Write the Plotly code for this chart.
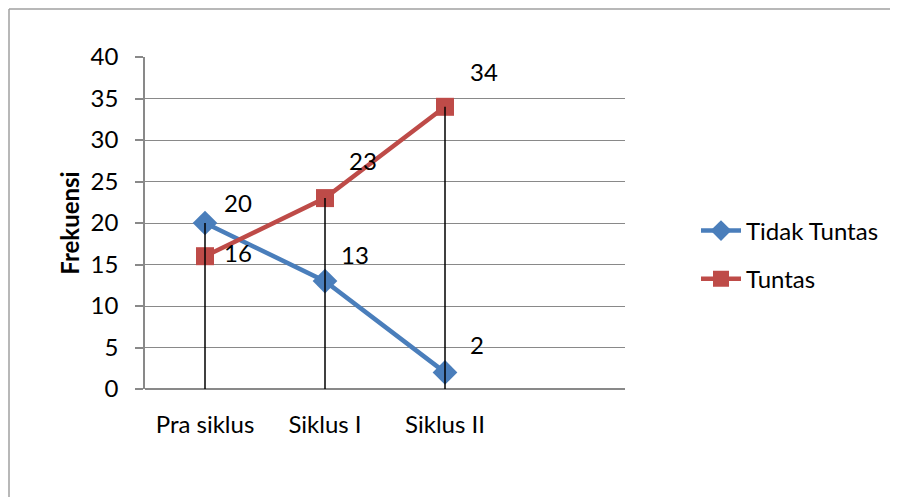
import plotly.graph_objects as go

categories = ["Pra siklus", "Siklus I", "Siklus II"]
tidak_tuntas = [20, 13, 2]
tuntas = [16, 23, 34]
y_ticks = [0, 5, 10, 15, 20, 25, 30, 35, 40]

FONT = "Lato, 'Open Sans', sans-serif"
FS = 24
GRID = "#898989"

# page has an 8px body margin, so the figure is drawn smaller and offset
W, H = 890, 489
L, T, PW, PH = 137, 49, 480, 332

fig = go.Figure()

fig.add_trace(go.Scatter(
    x=categories, y=tidak_tuntas, name="Tidak Tuntas", mode="lines+markers",
    line=dict(color="#4a7ebb", width=4.5),
    marker=dict(symbol="diamond", size=19, color="#4a7ebb"),
    legendgroup="a",
))
fig.add_trace(go.Scatter(
    x=categories, y=tuntas, name="Tuntas", mode="lines+markers",
    line=dict(color="#be4b48", width=4.5),
    marker=dict(symbol="square", size=18, color="#be4b48"),
    legendgroup="b",
))

# high-low drop lines
dx, dy = [], []
for c, a, b in zip(categories, tidak_tuntas, tuntas):
    dx += [c, c, None]
    dy += [0, max(a, b), None]
fig.add_trace(go.Scatter(x=dx, y=dy, mode="lines", line=dict(color="black", width=1.5),
                         showlegend=False, hoverinfo="skip"))

# data labels
shifts_a = [(33, 21), (30, 27), (32, 28)]
shifts_b = [(33, 4), (38, 38), (39, 35)]
for vals, shifts in ((tidak_tuntas, shifts_a), (tuntas, shifts_b)):
    for c, v, (sx, sy) in zip(categories, vals, shifts):
        fig.add_annotation(x=c, y=v, text=str(v), showarrow=False, xshift=sx, yshift=sy,
                           font=dict(family=FONT, size=FS, color="black"))

# outer frame (left and top edges visible)
fx0 = (1 - L) / PW
fx1 = (W - L) / PW
fy1 = 1 + (T - 1) / PH
fig.add_shape(type="line", xref="paper", yref="paper", x0=fx0, x1=fx0, y0=-0.6, y1=fy1,
              line=dict(color="#a0a0a0", width=1.5), layer="below")
fig.add_shape(type="line", xref="paper", yref="paper", x0=fx0, x1=fx1, y0=fy1, y1=fy1,
              line=dict(color="#a0a0a0", width=1.5), layer="below")

fig.update_layout(
    width=W, height=H,
    margin=dict(l=L, r=W - L - PW, t=T, b=H - T - PH),
    paper_bgcolor="white", plot_bgcolor="white",
    font=dict(family=FONT, size=FS, color="black"),
    showlegend=True,
    legend=dict(x=(688 - L) / PW, xanchor="left", y=(381 - 247) / PH, yanchor="middle",
                font=dict(family=FONT, size=FS), tracegroupgap=14, traceorder="grouped",
                bgcolor="rgba(0,0,0,0)", itemwidth=40),
    xaxis=dict(type="category", range=[-0.5, 3.5], showgrid=False, showline=False,
               ticks="", ticklabelstandoff=19, tickfont=dict(size=FS)),
    yaxis=dict(range=[0, 40], tickvals=y_ticks, showgrid=True, gridcolor=GRID, gridwidth=1,
               showline=True, linecolor=GRID, linewidth=1.5, ticks="outside", ticklen=8,
               tickcolor=GRID, tickwidth=1.5, ticklabelstandoff=12, zeroline=True,
               zerolinecolor=GRID, zerolinewidth=1.5,
               title=dict(text="<b>Frekuensi</b>", font=dict(size=FS), standoff=4)),
)

fig.write_html("out.html")
